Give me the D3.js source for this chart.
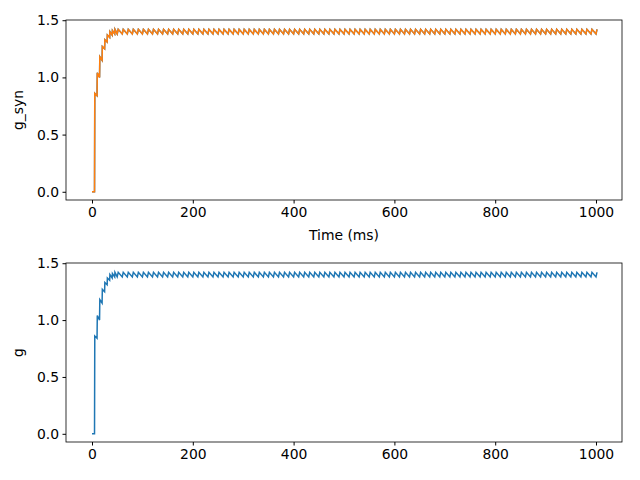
<!DOCTYPE html>
<html><head><meta charset="utf-8">
<script src="https://cdn.jsdelivr.net/npm/d3@7"></script>
<style>body{margin:0;background:#fff}text{font-family:"DejaVu Sans",sans-serif;font-size:13.9px}</style>
</head><body><div id="c"></div>
<script>
// rise phase: spike times (ms), value just after spike, value just before next spike
const riseTimes = [5, 10, 15, 20, 25, 30, 35, 40, 45];
const risePeaks = [0.86, 1.04, 1.18, 1.27, 1.33, 1.37, 1.40, 1.41, 1.42];
const riseTroughs = [0.84, 1.00, 1.15, 1.25, 1.31, 1.35, 1.37, 1.38, 1.38];
// steady state: one cycle every 10 ms until 1000 ms
const steadyPeriod = 10;
const steadyPeak = 1.42;
const steadyTrough = 1.38;
const xTicks = [0, 200, 400, 600, 800, 1000];
const yTicks = [0.0, 0.5, 1.0, 1.5];

const data = [[0, 0], [5, 0]];
riseTimes.forEach((t, i) => { data.push([t + 0.5, risePeaks[i]]); data.push([t + 5, riseTroughs[i]]); });
for (let t = 50; t <= 1000; t += steadyPeriod) {
  data.push([t + 2, steadyPeak]);
  data.push([Math.min(t + steadyPeriod, 1000), steadyTrough]);
}

const svg = d3.select('#c').append('svg').attr('width', 640).attr('height', 480);
const x = d3.scaleLinear().domain([-51.6, 1051.6]).range([66, 622]);

function panel(top, bottom, ylab, xlab, series) {
  const y = d3.scaleLinear().domain([-0.072, 1.502]).range([bottom, top]);
  const line = d3.line().x(d => x(d[0])).y(d => y(d[1]));
  series.forEach(c => svg.append('path').datum(data).attr('d', line)
    .attr('fill', 'none').attr('stroke', c).attr('stroke-width', 1.5));
  svg.append('rect').attr('x', 66).attr('y', top).attr('width', 556).attr('height', bottom - top)
    .attr('fill', 'none').attr('stroke', '#000').attr('stroke-width', 0.8);
  svg.append('g').attr('transform', `translate(0,${bottom})`)
    .call(d3.axisBottom(x).tickValues(xTicks).tickFormat(d3.format('d')).tickSize(3.5).tickPadding(3.5))
    .call(g => g.select('.domain').remove());
  svg.append('g').attr('transform', 'translate(66,0)')
    .call(d3.axisLeft(y).tickValues(yTicks).tickFormat(d3.format('.1f')).tickSize(3.5).tickPadding(3.5))
    .call(g => g.select('.domain').remove());
  svg.selectAll('.tick text').attr('font-size', 13.9).attr('font-family', 'DejaVu Sans').attr('fill', '#000');
  svg.append('text').attr('transform', `translate(23,${(top + bottom) / 2}) rotate(-90)`)
    .attr('text-anchor', 'middle').text(ylab);
  if (xlab) svg.append('text').attr('x', 344).attr('y', bottom + 40).attr('text-anchor', 'middle').text(xlab);
}
panel(20, 200, 'g_syn', 'Time (ms)', ['#1f77b4', '#ff7f0e']);
panel(263, 442, 'g', null, ['#1f77b4']);
</script></body></html>
